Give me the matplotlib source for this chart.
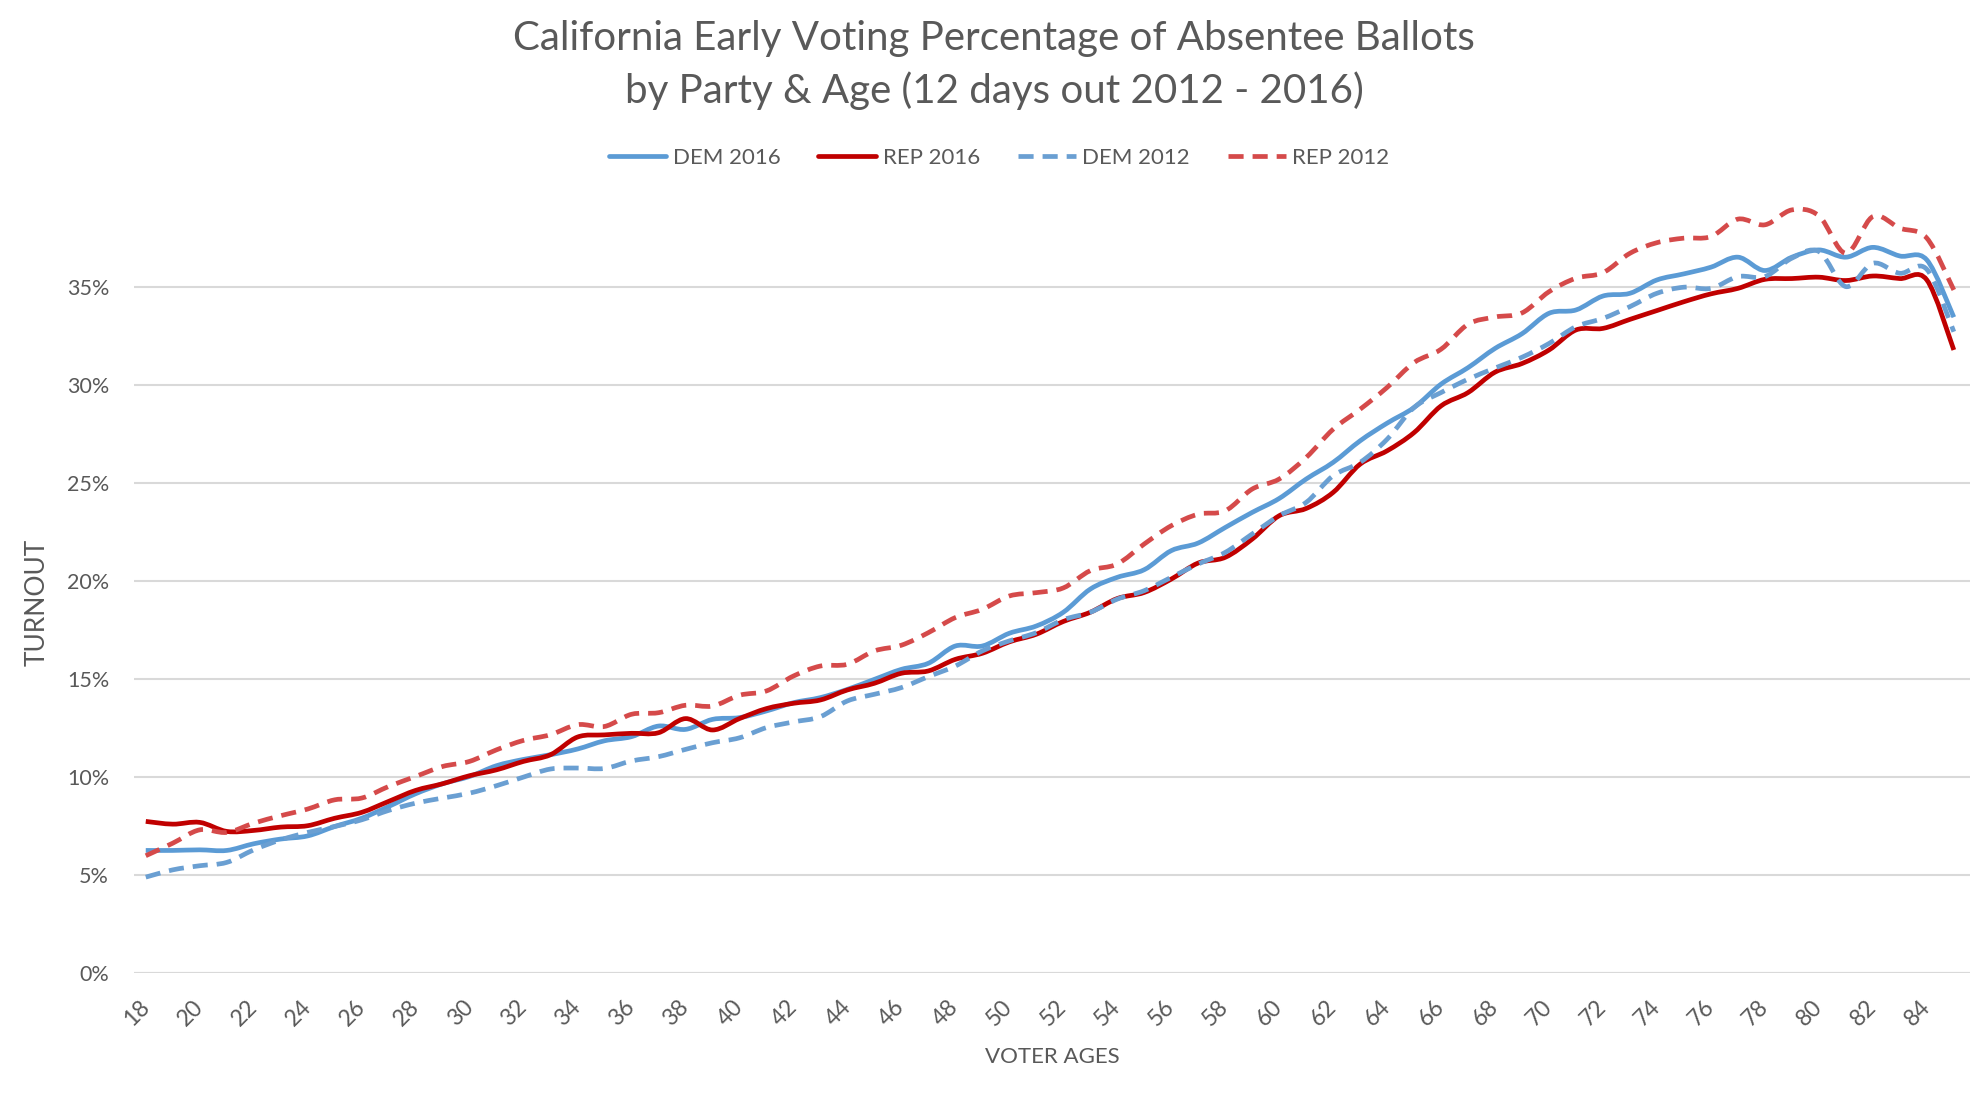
import matplotlib
matplotlib.use("Agg")
import matplotlib.pyplot as plt
from matplotlib.path import Path
from matplotlib.patches import PathPatch
from matplotlib.lines import Line2D
from matplotlib.ticker import PercentFormatter

plt.rcParams['font.family'] = ['Lato', 'DejaVu Sans']

ages = list(range(18, 86))

dem_2016 = [6.26, 6.26, 6.29, 6.26, 6.6, 6.84, 7.0, 7.48, 7.9, 8.5, 9.15, 9.66, 10.03, 10.58,
            10.9, 11.14, 11.43, 11.85, 12.06, 12.6, 12.43, 12.94, 13.03, 13.37, 13.79, 14.05,
            14.47, 14.98, 15.49, 15.8, 16.68, 16.68, 17.33, 17.7, 18.4, 19.58, 20.18, 20.57,
            21.54, 21.93, 22.72, 23.49, 24.2, 25.19, 26.04, 27.14, 28.04, 28.84, 30.03, 30.87,
            31.85, 32.6, 33.64, 33.81, 34.52, 34.66, 35.34, 35.65, 35.99, 36.5, 35.82, 36.5,
            36.87, 36.5, 37.0, 36.56, 36.36, 33.44]
rep_2016 = [7.74, 7.6, 7.69, 7.23, 7.28, 7.45, 7.52, 7.9, 8.2, 8.76, 9.32, 9.66, 10.07, 10.37,
            10.8, 11.14, 12.04, 12.15, 12.23, 12.26, 12.98, 12.4, 12.98, 13.49, 13.76, 13.93,
            14.44, 14.78, 15.29, 15.41, 16.0, 16.31, 16.89, 17.28, 17.93, 18.4, 19.1, 19.41,
            20.09, 20.91, 21.2, 22.13, 23.32, 23.69, 24.51, 25.95, 26.63, 27.56, 28.92, 29.6,
            30.64, 31.08, 31.77, 32.79, 32.87, 33.33, 33.78, 34.23, 34.63, 34.91, 35.37, 35.41,
            35.48, 35.31, 35.54, 35.41, 35.34, 31.77]
dem_2012 = [4.9, 5.27, 5.48, 5.65, 6.29, 6.8, 7.18, 7.48, 7.82, 8.3, 8.67, 8.93, 9.18, 9.56,
            10.0, 10.41, 10.46, 10.44, 10.82, 11.04, 11.41, 11.75, 12.0, 12.52, 12.81, 13.08,
            13.88, 14.22, 14.56, 15.12, 15.66, 16.43, 16.94, 17.36, 18.02, 18.4, 19.07, 19.5,
            20.18, 20.86, 21.45, 22.39, 23.32, 24.0, 25.36, 26.04, 27.22, 28.84, 29.6, 30.28,
            30.85, 31.4, 32.1, 32.96, 33.38, 33.98, 34.66, 34.97, 34.91, 35.51, 35.51, 36.45,
            36.79, 35.0, 36.19, 35.68, 35.88, 32.7]
rep_2012 = [5.99, 6.63, 7.31, 7.18, 7.65, 8.03, 8.37, 8.84, 8.93, 9.52, 10.03, 10.54, 10.8, 11.39,
            11.87, 12.16, 12.67, 12.58, 13.2, 13.28, 13.66, 13.62, 14.17, 14.39, 15.15, 15.66,
            15.75, 16.43, 16.72, 17.36, 18.13, 18.55, 19.23, 19.4, 19.64, 20.52, 20.86, 21.88,
            22.81, 23.4, 23.57, 24.68, 25.19, 26.29, 27.73, 28.75, 29.86, 31.13, 31.81, 33.08,
            33.45, 33.66, 34.74, 35.43, 35.71, 36.7, 37.24, 37.47, 37.55, 38.44, 38.15, 38.91,
            38.61, 36.7, 38.57, 37.98, 37.47, 34.83]

series = [
    ("DEM 2016", dem_2016, "#5B9BD5", "-"),
    ("REP 2016", rep_2016, "#C00000", "-"),
    ("DEM 2012", dem_2012, "#6A9FD2", (0, (3.2, 1.9))),
    ("REP 2012", rep_2012, "#D54A4A", (0, (3.2, 1.9))),
]
TEXT = "#595959"
GRID = "#D9D9D9"
LW = 3.4


def smooth_path(x, y):
    # Excel-style smoothed line: cubic Bezier through each point
    verts = [(x[0], y[0])]
    codes = [Path.MOVETO]
    n = len(x)
    for i in range(n - 1):
        x0, y0 = x[max(i - 1, 0)], y[max(i - 1, 0)]
        x1, y1 = x[i], y[i]
        x2, y2 = x[i + 1], y[i + 1]
        x3, y3 = x[min(i + 2, n - 1)], y[min(i + 2, n - 1)]
        verts += [(x1 + (x2 - x0) / 6, y1 + (y2 - y0) / 6),
                  (x2 - (x3 - x1) / 6, y2 - (y3 - y1) / 6),
                  (x2, y2)]
        codes += [Path.CURVE4] * 3
    return Path(verts, codes)


fig = plt.figure(figsize=(19.86, 10.96), dpi=100)
ax = fig.add_axes([0.0675, 0.1120, 0.9245, 0.7160])

handles = []
for label, vals, color, ls in series:
    patch = PathPatch(smooth_path(ages, vals), fill=False, edgecolor=color,
                      lw=LW, linestyle=ls, capstyle="butt", joinstyle="round", zorder=3)
    ax.add_patch(patch)
    handles.append(Line2D([], [], color=color, lw=LW, linestyle=ls, label=label,
                          solid_capstyle="round"))

ax.set_xlim(17.566, 85.604)
ax.set_ylim(0, 40)
ax.set_yticks(range(0, 40, 5))
ax.yaxis.set_major_formatter(PercentFormatter(decimals=0))
ax.set_xticks(range(18, 86, 2))
ax.grid(axis="y", color=GRID, lw=1.5, zorder=0)
for s in ax.spines.values():
    s.set_visible(False)
ax.axhline(0, color=GRID, lw=1.5, zorder=1)
ax.tick_params(axis="both", length=0, colors=TEXT)
ax.tick_params(axis="y", pad=18, labelsize=15.5)
ax.tick_params(axis="x", pad=22, labelsize=16.5)
for t in ax.get_xticklabels():
    t.set_rotation(45)
    t.set_ha("right")
    t.set_va("center")
    t.set_rotation_mode("anchor")

ax.set_ylabel("TURNOUT", color=TEXT, fontsize=19)
ax.yaxis.set_label_coords(-0.046, 0.472)
ax.set_xlabel("VOTER AGES", color=TEXT, fontsize=16, labelpad=12)

fig.text(0.5005, 0.9653, "California Early Voting Percentage of Absentee Ballots",
         ha="center", va="center", fontsize=29, color=TEXT)
fig.text(0.5005, 0.917, "by Party & Age (12 days out 2012 - 2016)",
         ha="center", va="center", fontsize=29, color=TEXT)

fig.legend(handles=handles, loc="center", bbox_to_anchor=(0.503, 0.856), ncol=4,
           frameon=False, fontsize=16, handlelength=2.6, handletextpad=0.3,
           columnspacing=1.7, labelcolor=TEXT)

fig.savefig("out.png", dpi=100)
